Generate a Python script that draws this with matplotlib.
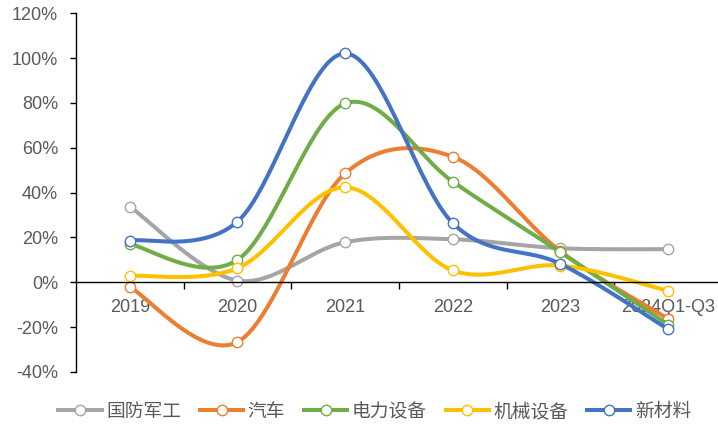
import numpy as np
import matplotlib
matplotlib.use('Agg')
from matplotlib import pyplot as plt
from matplotlib.lines import Line2D
from matplotlib.ticker import FuncFormatter

plt.rcParams['font.family'] = ['Liberation Sans', 'Noto Sans CJK SC', 'DejaVu Sans']

years = ['2019', '2020', '2021', '2022', '2023', '2024Q1-Q3']
names = ['国防军工', '汽车', '电力设备', '机械设备', '新材料']
colors = ['#A5A5A5', '#ED7D31', '#70AD47', '#FFC000', '#4472C4']

# 增速 (%)
defense = [33.8, 0.8, 17.9, 19.2, 15.2, 14.8]
auto = [-2.1, -26.6, 48.6, 56.0, 13.8, -16.3]
power = [17.0, 10.0, 79.8, 44.9, 13.4, -18.9]
machinery = [2.9, 6.3, 42.4, 5.3, 7.5, -3.8]
materials = [18.6, 27.1, 102.1, 26.4, 8.2, -20.9]
series = [defense, auto, power, machinery, materials]


def smooth(x, y, n=40):
    # 平滑曲线: 三次贝塞尔, 控制点按相邻点差值的 1/6 取
    x = np.asarray(x, float)
    y = np.asarray(y, float)
    px = np.concatenate([[x[0]], x, [x[-1]]])
    py = np.concatenate([[y[0]], y, [y[-1]]])
    t = np.linspace(0, 1, n)
    xs, ys = [], []
    for i in range(len(x) - 1):
        p0 = np.array([px[i + 1], py[i + 1]])
        p3 = np.array([px[i + 2], py[i + 2]])
        c1 = p0 + (p3 - np.array([px[i], py[i]])) / 6
        c2 = p3 - (np.array([px[i + 3], py[i + 3]]) - p0) / 6
        pts = ((1 - t) ** 3)[:, None] * p0 + (3 * (1 - t) ** 2 * t)[:, None] * c1 \
            + (3 * (1 - t) * t ** 2)[:, None] * c2 + (t ** 3)[:, None] * p3
        xs.extend(pts[:, 0])
        ys.extend(pts[:, 1])
    return np.array(xs), np.array(ys)


fig = plt.figure(figsize=(7.18, 4.25), dpi=100)
ax = fig.add_axes([76 / 718, 53 / 425, 646 / 718, 358.7 / 425])

xpos = np.arange(len(years))
handles = []
for vals, c, name in zip(series, colors, names):
    sx, sy = smooth(xpos, vals)
    ax.plot(sx, sy, color=c, lw=2.9, solid_capstyle='round', clip_on=False)
    ax.plot(xpos, vals, ls='none', marker='o', ms=7.5, mfc='white', mec=c, mew=1.0, clip_on=False)
    handles.append(Line2D([], [], color=c, lw=2.9, marker='o', ms=7.5, mfc='white', mec=c, mew=1.0))

ax.set_ylim(-40, 120)
ax.set_yticks(np.arange(-40, 121, 20))
ax.yaxis.set_major_formatter(FuncFormatter(lambda v, p: f'{v:.0f}%'))
ax.set_xlim(-0.5, 5.5)

ax.spines['top'].set_visible(False)
ax.spines['right'].set_visible(False)
ax.spines['bottom'].set_position(('data', 0))
ax.spines['left'].set_linewidth(1.0)
ax.spines['bottom'].set_linewidth(1.0)

# 分类标签放在刻度之间
ax.set_xticks(np.arange(0.5, 5.6, 1.0))
ax.set_xticklabels([])
ax.set_xticks(xpos, minor=True)
ax.set_xticklabels(years, minor=True)
ax.tick_params(axis='x', which='major', direction='out', length=5, width=1)
ax.tick_params(axis='x', which='minor', length=0, pad=12, labelsize=13, labelcolor='#595959')
ax.tick_params(axis='y', direction='out', length=4, width=1, labelsize=13, labelcolor='#595959', pad=9)

fig.legend(handles, names, loc='lower center', bbox_to_anchor=(0.522, -0.03), ncol=5, frameon=False,
           fontsize=13.5, labelcolor='#595959', handlelength=2.3, handletextpad=0.25, columnspacing=1.0)

fig.savefig('out.png', dpi=100)
